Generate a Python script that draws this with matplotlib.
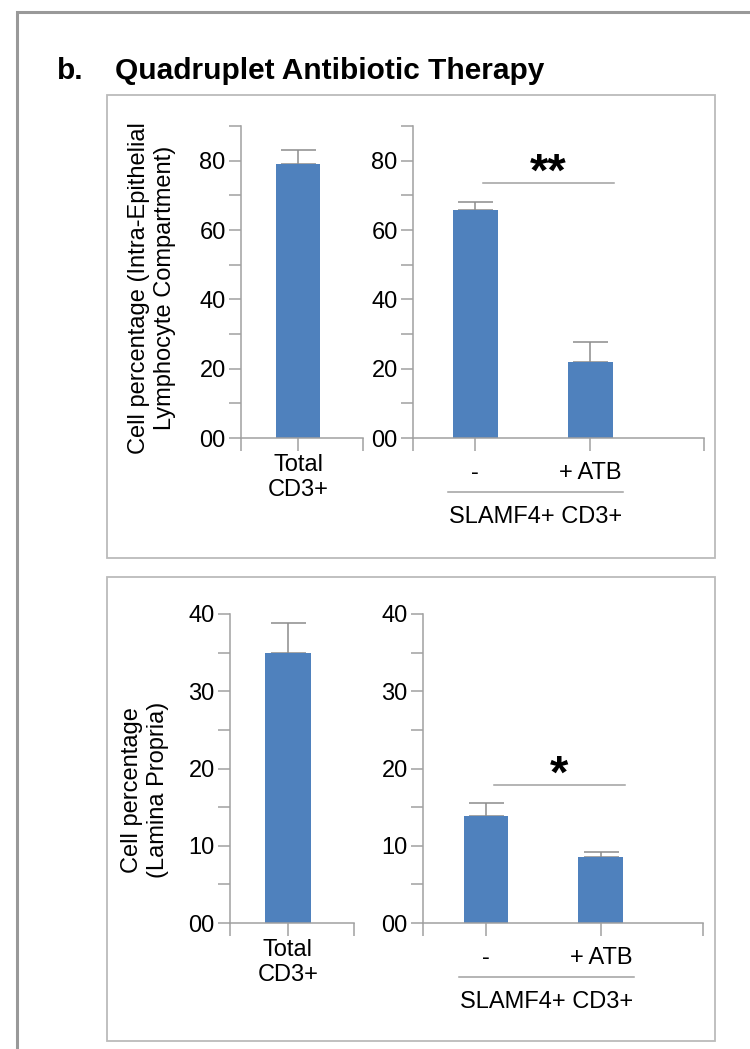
import matplotlib.pyplot as plt
from matplotlib.patches import Rectangle
from matplotlib.ticker import FixedLocator, MultipleLocator
from matplotlib.transforms import blended_transform_factory

plt.rcParams['font.family'] = ['Liberation Sans', 'DejaVu Sans']

# ---- data ----
title_letter = "b."
title_text = "Quadruplet Antibiotic Therapy"

total_label = ["Total\nCD3+"]
slamf_labels = ["-", "+\u2009ATB"]
group_label = "SLAMF4+ CD3+"

iel_total = [79.0]
iel_total_err = [4.1]
iel_slamf = [65.8, 21.9]
iel_slamf_err = [2.3, 5.8]
iel_sig = "**"
iel_ylabel = "Cell percentage (Intra-Epithelial\nLymphocyte Compartment)"
iel_yticks = [0, 20, 40, 60, 80]
iel_ymax = 90

lp_total = [35.0]
lp_total_err = [3.8]
lp_slamf = [13.9, 8.5]
lp_slamf_err = [1.6, 0.7]
lp_sig = "*"
lp_ylabel = "Cell percentage\n(Lamina Propria)"
lp_yticks = [0, 10, 20, 30, 40]
lp_ymax = 40

# ---- style ----
W, H = 750, 1049
BLUE = '#4f81bd'
AX_GRAY = '#a0a0a0'
ERR_GRAY = '#8c8c8c'
FS = 17

fig = plt.figure(figsize=(W / 100, H / 100), dpi=100)


def px_axes(x0, y0, x1, y1):
    return fig.add_axes([x0 / W, 1 - y1 / H, (x1 - x0) / W, (y1 - y0) / H])


def px_box(x0, y0, x1, y1, color, lw):
    fig.add_artist(Rectangle((x0 / W, 1 - y1 / H), (x1 - x0) / W, (y1 - y0) / H,
                             transform=fig.transFigure, fill=False,
                             edgecolor=color, linewidth=lw, clip_on=False))


def bar_panel(ax, vals, errs, labels, ymax, yticks, xlim, xpad):
    x = list(range(len(vals)))
    ax.bar(x, vals, width=0.39, color=BLUE, zorder=2)
    ax.errorbar(x, vals, yerr=[[0] * len(errs), errs], fmt='none', ecolor=ERR_GRAY,
                elinewidth=1.1, capsize=12.6, capthick=1.1, zorder=1)
    ax.set_xlim(*xlim)
    ax.set_ylim(0, ymax)
    for s in ['top', 'right']:
        ax.spines[s].set_visible(False)
    for s in ['left', 'bottom']:
        ax.spines[s].set_color(AX_GRAY)
        ax.spines[s].set_linewidth(1.1)
    ax.yaxis.set_major_locator(FixedLocator(yticks))
    ax.set_yticklabels([f"{t:02d}" for t in yticks])
    ax.yaxis.set_minor_locator(MultipleLocator((yticks[1] - yticks[0]) / 2))
    ax.tick_params(axis='y', which='both', direction='out', length=9, width=1.1,
                   color=AX_GRAY, labelsize=FS, pad=2)
    ax.set_xticks(x, labels)
    ax.xaxis.set_minor_locator(FixedLocator(list(xlim)))
    ax.tick_params(axis='x', which='both', direction='out', length=9.5, width=1.1,
                   color=AX_GRAY, labelsize=FS, pad=xpad)
    ax.patch.set_alpha(0)
    return x


def significance(ax, vals, errs, ymax, sig):
    top = max(v + e for v, e in zip(vals, errs)) + 0.06 * ymax
    ax.plot([0.07, 1.21], [top, top], color=AX_GRAY, lw=1.1)
    ax.annotate(sig, (0.64, top), xytext=(0, -2), textcoords='offset points',
                ha='center', va='baseline', fontsize=34, fontweight='bold')


def group_bracket(ax, ly, ty):
    tr = blended_transform_factory(ax.transData, ax.transAxes)
    ax.plot([-0.24, 1.29], [ly, ly], color=AX_GRAY, lw=1.1, transform=tr, clip_on=False)
    ax.text(0.525, ty, group_label, ha='center', va='center', fontsize=FS, transform=tr)


# frames
px_box(17, 12, 770, 1070, '#999999', 2.2)
px_box(107, 95, 715, 558, '#bbbbbb', 1.3)
px_box(107, 577, 715, 1041, '#bbbbbb', 1.3)

fig.text(57 / W, 1 - 79 / H, title_letter, fontsize=21.5, fontweight='bold', va='baseline')
fig.text(115 / W, 1 - 79 / H, title_text, fontsize=21.5, fontweight='bold', va='baseline')

# intra-epithelial panel
ax1 = px_axes(241, 126, 363, 438)
bar_panel(ax1, iel_total, iel_total_err, total_label, iel_ymax, iel_yticks, (-0.5, 0.57), 2)
ax2 = px_axes(413, 126, 704, 438)
bar_panel(ax2, iel_slamf, iel_slamf_err, slamf_labels, iel_ymax, iel_yticks, (-0.54, 1.99), 8)
significance(ax2, iel_slamf, iel_slamf_err, iel_ymax, iel_sig)
group_bracket(ax2, -0.173, -0.253)
fig.text(152 / W, 1 - 288 / H, iel_ylabel, rotation=90, ha='center', va='center',
         multialignment='center', fontsize=FS)

# lamina propria panel
ax3 = px_axes(230, 614, 354, 923)
bar_panel(ax3, lp_total, lp_total_err, total_label, lp_ymax, lp_yticks, (-0.5, 0.57), 2)
ax4 = px_axes(423, 614, 703, 923)
bar_panel(ax4, lp_slamf, lp_slamf_err, slamf_labels, lp_ymax, lp_yticks, (-0.55, 1.89), 8)
significance(ax4, lp_slamf, lp_slamf_err, lp_ymax, lp_sig)
group_bracket(ax4, -0.175, -0.256)
fig.text(145 / W, 1 - 790 / H, lp_ylabel, rotation=90, ha='center', va='center',
         multialignment='center', fontsize=FS)

fig.savefig('out.png', dpi=100)
